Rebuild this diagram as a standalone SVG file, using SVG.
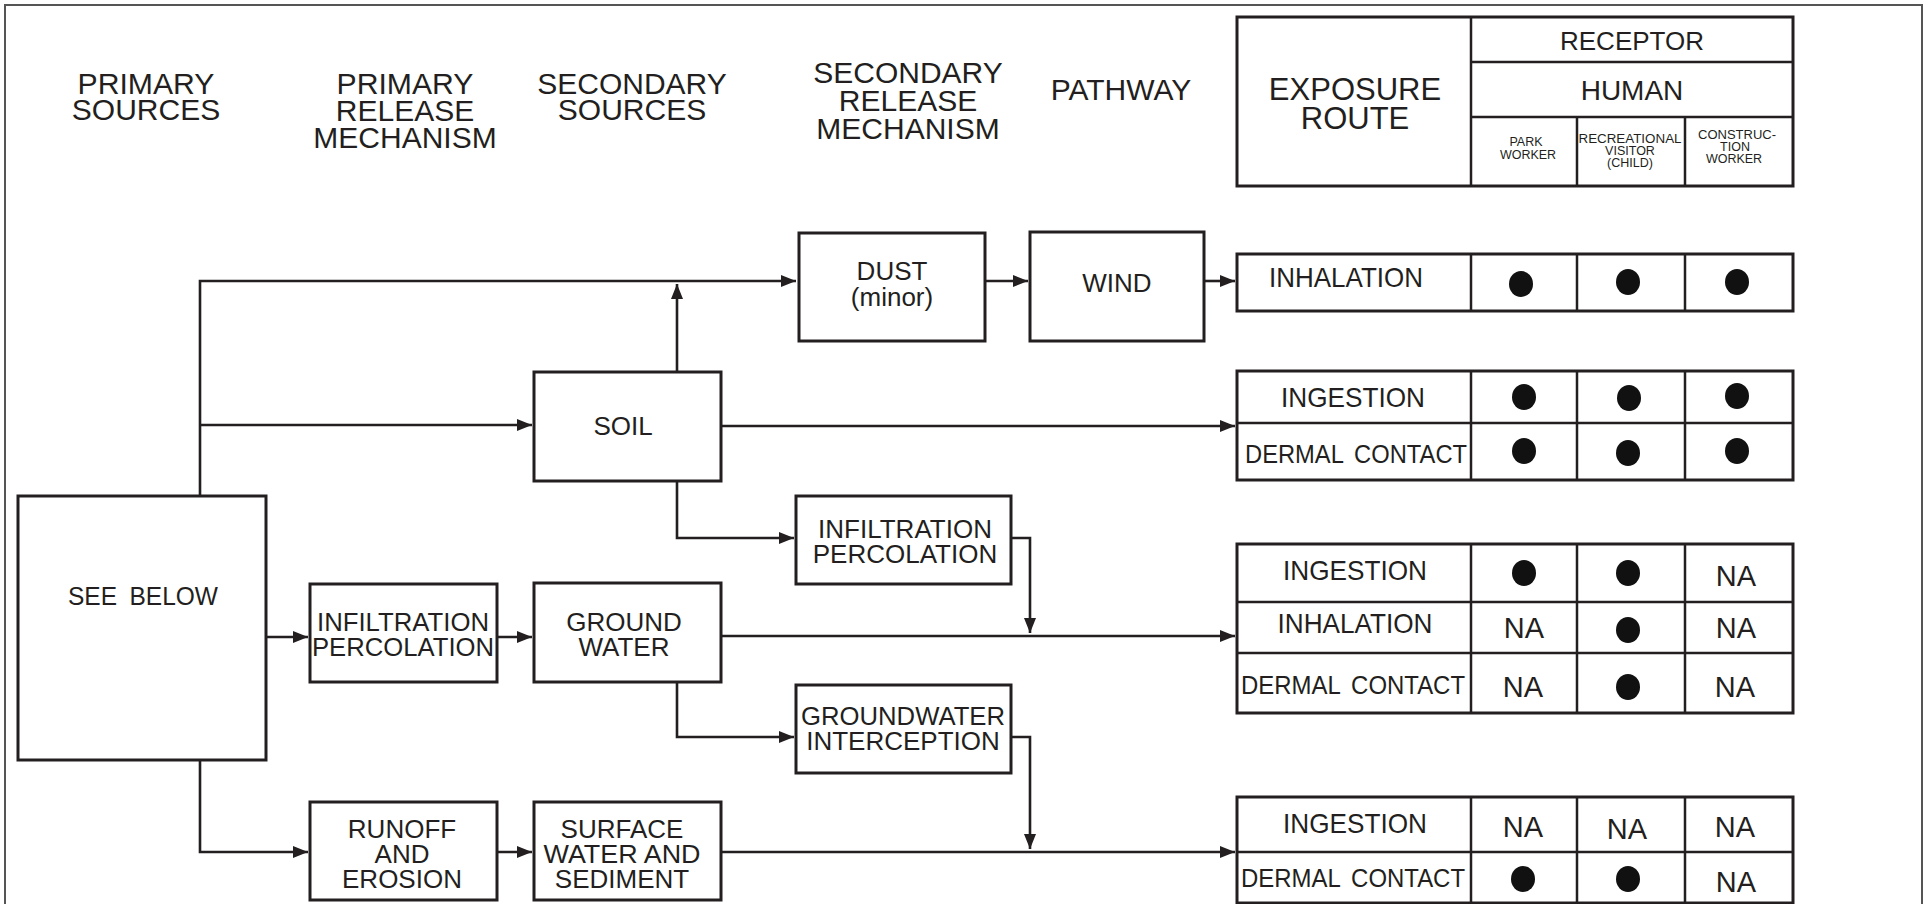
<svg xmlns="http://www.w3.org/2000/svg" width="1928" height="904" viewBox="0 0 1928 904">
<style>
text{font-family:"Liberation Sans",Arial,sans-serif;fill:#231f20}
.h{font-size:30px;text-anchor:middle}
.b{font-size:26px;text-anchor:middle}
.t{font-size:28px;text-anchor:middle}
.dc{font-size:26px;text-anchor:start;word-spacing:5px}
.na{font-size:29px;text-anchor:middle}
.s{font-size:12.5px;text-anchor:middle}
.box{fill:#fff;stroke:#231f20;stroke-width:3}
.cell{fill:none;stroke:#231f20;stroke-width:2.5}
.c{fill:none;stroke:#231f20;stroke-width:2.6}
.dot{fill:#111}
</style>
<defs>
<marker id="ah" markerUnits="userSpaceOnUse" markerWidth="16" markerHeight="14" refX="15" refY="7" orient="auto" viewBox="0 0 16 14"><path d="M0,1 L15,7 L0,13 z" fill="#231f20"/></marker>
</defs>
<rect x="5" y="5" width="1917" height="1000" fill="#fff" stroke="#555" stroke-width="2"/>

<g id="headers">
<text class="h" x="146" y="94" textLength="137" lengthAdjust="spacingAndGlyphs">PRIMARY</text>
<text class="h" x="146" y="120">SOURCES</text>
<text class="h" x="405" y="94" textLength="137" lengthAdjust="spacingAndGlyphs">PRIMARY</text>
<text class="h" x="405" y="120.5">RELEASE</text>
<text class="h" x="405" y="147.5">MECHANISM</text>
<text class="h" x="632" y="94">SECONDARY</text>
<text class="h" x="632" y="120">SOURCES</text>
<text class="h" x="908" y="83">SECONDARY</text>
<text class="h" x="908" y="111">RELEASE</text>
<text class="h" x="908" y="139">MECHANISM</text>
<text class="h" x="1121" y="100">PATHWAY</text>
</g>

<g id="header-table">
<rect class="box" x="1237" y="17" width="556" height="169"/>
<line class="cell" x1="1471" y1="17" x2="1471" y2="186"/>
<line class="cell" x1="1471" y1="62" x2="1793" y2="62"/>
<line class="cell" x1="1471" y1="117" x2="1793" y2="117"/>
<line class="cell" x1="1577" y1="117" x2="1577" y2="186"/>
<line class="cell" x1="1685" y1="117" x2="1685" y2="186"/>
<text class="h" x="1355" y="100" style="font-size:31px">EXPOSURE</text>
<text class="h" x="1355" y="129" style="font-size:31px">ROUTE</text>
<text class="h" x="1632" y="50" style="font-size:26px">RECEPTOR</text>
<text class="h" x="1632" y="100" style="font-size:28px">HUMAN</text>
<text class="s" x="1526" y="146">PARK</text>
<text class="s" x="1528" y="159">WORKER</text>
<text class="s" x="1630" y="143" textLength="103" lengthAdjust="spacingAndGlyphs">RECREATIONAL</text>
<text class="s" x="1630" y="155">VISITOR</text>
<text class="s" x="1630" y="167">(CHILD)</text>
<text class="s" x="1737" y="139" textLength="78" lengthAdjust="spacingAndGlyphs">CONSTRUC-</text>
<text class="s" x="1735" y="151">TION</text>
<text class="s" x="1734" y="163">WORKER</text>
</g>

<g id="connectors">
<polyline class="c" points="200,496 200,281 796,281" marker-end="url(#ah)"/>
<polyline class="c" points="200,425 532,425" marker-end="url(#ah)"/>
<polyline class="c" points="677,372 677,284" marker-end="url(#ah)"/>
<polyline class="c" points="721,426 1235,426" marker-end="url(#ah)"/>
<polyline class="c" points="677,481 677,538 794,538" marker-end="url(#ah)"/>
<polyline class="c" points="1011,538 1030,538 1030,633" marker-end="url(#ah)"/>
<polyline class="c" points="266,637 308,637" marker-end="url(#ah)"/>
<polyline class="c" points="497,637 532,637" marker-end="url(#ah)"/>
<polyline class="c" points="721,636 1235,636" marker-end="url(#ah)"/>
<polyline class="c" points="677,682 677,737 794,737" marker-end="url(#ah)"/>
<polyline class="c" points="1011,737 1030,737 1030,849" marker-end="url(#ah)"/>
<polyline class="c" points="200,760 200,852 308,852" marker-end="url(#ah)"/>
<polyline class="c" points="497,852 532,852" marker-end="url(#ah)"/>
<polyline class="c" points="721,852 1235,852" marker-end="url(#ah)"/>
<polyline class="c" points="985,281 1028,281" marker-end="url(#ah)"/>
<polyline class="c" points="1204,281 1235,281" marker-end="url(#ah)"/>
</g>

<g id="see-below">
<rect class="box" x="18" y="496" width="248" height="264"/>
<text class="b" x="143" y="605" style="word-spacing:6px" textLength="150" lengthAdjust="spacingAndGlyphs">SEE BELOW</text>
</g>
<g id="soil">
<rect class="box" x="534" y="372" width="187" height="109"/>
<text class="b" x="623" y="435">SOIL</text>
</g>
<g id="dust">
<rect class="box" x="799" y="233" width="186" height="108"/>
<text class="b" x="892" y="280">DUST</text>
<text class="b" x="892" y="306">(minor)</text>
</g>
<g id="wind">
<rect class="box" x="1030" y="232" width="174" height="109"/>
<text class="b" x="1117" y="292">WIND</text>
</g>
<g id="infiltration-secondary">
<rect class="box" x="796" y="496" width="215" height="88"/>
<text class="b" x="905" y="538">INFILTRATION</text>
<text class="b" x="905" y="563">PERCOLATION</text>
</g>
<g id="infiltration-primary">
<rect class="box" x="310" y="584" width="187" height="98"/>
<text class="b" x="403" y="631" textLength="172" lengthAdjust="spacingAndGlyphs">INFILTRATION</text>
<text class="b" x="403" y="656" textLength="182" lengthAdjust="spacingAndGlyphs">PERCOLATION</text>
</g>
<g id="ground-water">
<rect class="box" x="534" y="583" width="187" height="99"/>
<text class="b" x="624" y="631">GROUND</text>
<text class="b" x="624" y="656">WATER</text>
</g>
<g id="groundwater-interception">
<rect class="box" x="796" y="685" width="215" height="88"/>
<text class="b" x="903" y="725" textLength="204" lengthAdjust="spacingAndGlyphs">GROUNDWATER</text>
<text class="b" x="903" y="750">INTERCEPTION</text>
</g>
<g id="runoff">
<rect class="box" x="310" y="802" width="187" height="98"/>
<text class="b" x="402" y="838">RUNOFF</text>
<text class="b" x="402" y="863">AND</text>
<text class="b" x="402" y="888">EROSION</text>
</g>
<g id="surface-water">
<rect class="box" x="534" y="802" width="187" height="98"/>
<text class="b" x="622" y="838">SURFACE</text>
<text class="b" x="622" y="863" textLength="157" lengthAdjust="spacingAndGlyphs">WATER AND</text>
<text class="b" x="622" y="888">SEDIMENT</text>
</g>

<g id="table-inhalation">
<rect class="box" x="1237" y="254" width="556" height="57"/>
<line class="cell" x1="1471" y1="254" x2="1471" y2="311"/>
<line class="cell" x1="1577" y1="254" x2="1577" y2="311"/>
<line class="cell" x1="1685" y1="254" x2="1685" y2="311"/>
<text class="t" x="1346" y="287" textLength="154" lengthAdjust="spacingAndGlyphs">INHALATION</text>
<ellipse class="dot" cx="1521" cy="284" rx="12" ry="13"/>
<ellipse class="dot" cx="1628" cy="282" rx="12" ry="13"/>
<ellipse class="dot" cx="1737" cy="282" rx="12" ry="13"/>
</g>

<g id="table-soil">
<rect class="box" x="1237" y="371" width="556" height="109"/>
<line class="cell" x1="1237" y1="423" x2="1793" y2="423"/>
<line class="cell" x1="1471" y1="371" x2="1471" y2="480"/>
<line class="cell" x1="1577" y1="371" x2="1577" y2="480"/>
<line class="cell" x1="1685" y1="371" x2="1685" y2="480"/>
<text class="t" x="1353" y="407" textLength="144" lengthAdjust="spacingAndGlyphs">INGESTION</text>
<text class="dc" x="1245" y="463" textLength="222" lengthAdjust="spacingAndGlyphs">DERMAL CONTACT</text>
<ellipse class="dot" cx="1524" cy="397" rx="12" ry="13"/>
<ellipse class="dot" cx="1629" cy="398" rx="12" ry="13"/>
<ellipse class="dot" cx="1737" cy="396" rx="12" ry="13"/>
<ellipse class="dot" cx="1524" cy="451" rx="12" ry="13"/>
<ellipse class="dot" cx="1628" cy="453" rx="12" ry="13"/>
<ellipse class="dot" cx="1737" cy="451" rx="12" ry="13"/>
</g>

<g id="table-groundwater">
<rect class="box" x="1237" y="544" width="556" height="169"/>
<line class="cell" x1="1237" y1="602" x2="1793" y2="602"/>
<line class="cell" x1="1237" y1="653" x2="1793" y2="653"/>
<line class="cell" x1="1471" y1="544" x2="1471" y2="713"/>
<line class="cell" x1="1577" y1="544" x2="1577" y2="713"/>
<line class="cell" x1="1685" y1="544" x2="1685" y2="713"/>
<text class="t" x="1355" y="580" textLength="144" lengthAdjust="spacingAndGlyphs">INGESTION</text>
<text class="t" x="1355" y="633" textLength="155" lengthAdjust="spacingAndGlyphs">INHALATION</text>
<text class="dc" x="1241" y="694" textLength="224" lengthAdjust="spacingAndGlyphs">DERMAL CONTACT</text>
<ellipse class="dot" cx="1524" cy="573" rx="12" ry="13"/>
<ellipse class="dot" cx="1628" cy="573" rx="12" ry="13"/>
<text class="na" x="1736" y="586">NA</text>
<text class="na" x="1524" y="638">NA</text>
<ellipse class="dot" cx="1628" cy="630" rx="12" ry="13"/>
<text class="na" x="1736" y="638">NA</text>
<text class="na" x="1523" y="697">NA</text>
<ellipse class="dot" cx="1628" cy="687" rx="12" ry="13"/>
<text class="na" x="1735" y="697">NA</text>
</g>

<g id="table-surface-water">
<rect class="box" x="1237" y="797" width="556" height="106"/>
<line class="cell" x1="1237" y1="852" x2="1793" y2="852"/>
<line class="cell" x1="1471" y1="797" x2="1471" y2="903"/>
<line class="cell" x1="1577" y1="797" x2="1577" y2="903"/>
<line class="cell" x1="1685" y1="797" x2="1685" y2="903"/>
<text class="t" x="1355" y="833" textLength="144" lengthAdjust="spacingAndGlyphs">INGESTION</text>
<text class="dc" x="1241" y="887" textLength="224" lengthAdjust="spacingAndGlyphs">DERMAL CONTACT</text>
<text class="na" x="1523" y="837">NA</text>
<text class="na" x="1627" y="839">NA</text>
<text class="na" x="1735" y="837">NA</text>
<ellipse class="dot" cx="1523" cy="879" rx="12" ry="13"/>
<ellipse class="dot" cx="1628" cy="879" rx="12" ry="13"/>
<text class="na" x="1736" y="892">NA</text>
</g>
</svg>
